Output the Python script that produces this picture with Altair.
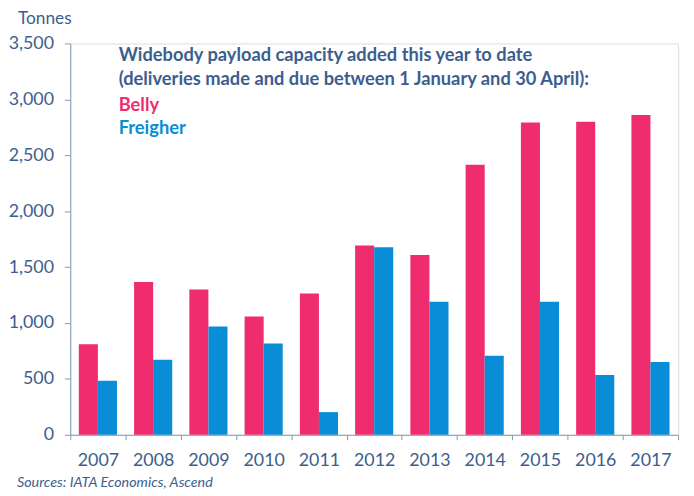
import altair as alt
import pandas as pd

# ---- data ----
years = ["2007", "2008", "2009", "2010", "2011", "2012", "2013", "2014", "2015", "2016", "2017"]
belly = [810, 1367, 1299, 1058, 1264, 1694, 1609, 2416, 2793, 2799, 2861]
freighter = [483, 672, 969, 816, 203, 1677, 1190, 707, 1190, 536, 651]
series = ["Belly", "Freigher"]
y_ticks = [0, 500, 1000, 1500, 2000, 2500, 3000, 3500]
title_lines = [
    "Widebody payload capacity added this year to date",
    "(deliveries made and due between 1 January and 30 April):",
]
unit_label = "Tonnes"
source_text = "Sources: IATA Economics, Ascend"

rows = []
for i, yr in enumerate(years):
    rows.append({"year": yr, "series": series[0], "value": belly[i]})
    rows.append({"year": yr, "series": series[1], "value": freighter[i]})
df = pd.DataFrame(rows)

# ---- style ----
FONT = "Lato"
TXT = "#3C5E8E"
AX = "#8499B7"
PINK = "#EE2C6E"
BLUE = "#088DD6"

W, H = 615, 396

bars = alt.Chart(df).mark_bar().encode(
    x=alt.X(
        "year:N",
        sort=years,
        scale=alt.Scale(paddingInner=0, paddingOuter=0),
        axis=alt.Axis(
            title=None, labelAngle=0, tickBand="extent", tickSize=5, tickColor=AX,
            domainColor=AX, labelPadding=12, labelFontSize=18, labelColor=TXT,
            labelFont=FONT,
        ),
    ),
    xOffset=alt.XOffset("series:N", sort=series,
                        scale=alt.Scale(paddingInner=0, paddingOuter=0.45)),
    y=alt.Y(
        "value:Q",
        scale=alt.Scale(domain=[0, 3500], nice=False),
        axis=alt.Axis(
            title=None, values=y_ticks, format=",.0f", grid=False, tickSize=6,
            tickColor=AX, domainColor=AX, labelPadding=11, labelFontSize=18,
            labelColor=TXT, labelFont=FONT,
        ),
    ),
    color=alt.Color("series:N", scale=alt.Scale(domain=series, range=[PINK, BLUE]), legend=None),
)


def text_layer(txt, x, y, size, color, weight="normal", style="normal"):
    return alt.Chart(pd.DataFrame({"t": [txt]})).mark_text(
        align="left", baseline="middle", font=FONT, fontSize=size, color=color,
        fontWeight=weight, fontStyle=style,
    ).encode(x=alt.value(x), y=alt.value(y), text="t:N")


layers = [
    bars,
    text_layer(title_lines[0], 49, 12, 18.5, TXT, weight="bold"),
    text_layer(title_lines[1], 49, 36, 18.5, TXT, weight="bold"),
    text_layer(series[0], 49, 62, 18.5, PINK, weight="bold"),
    text_layer(series[1], 49, 86, 18.5, BLUE, weight="bold"),
    text_layer(unit_label, -53, -25, 17.5, TXT),
    text_layer(source_text, -54, 445, 14.5, TXT, style="italic"),
]

chart = alt.layer(*layers).properties(
    width=W,
    height=H,
    autosize=alt.AutoSizeParams(type="none"),
    padding={"left": 63, "top": 33, "right": 8, "bottom": 55},
).configure_view(stroke=None).configure(background="white")

chart.save("out.html", embed_options={"renderer": "svg", "actions": False})
